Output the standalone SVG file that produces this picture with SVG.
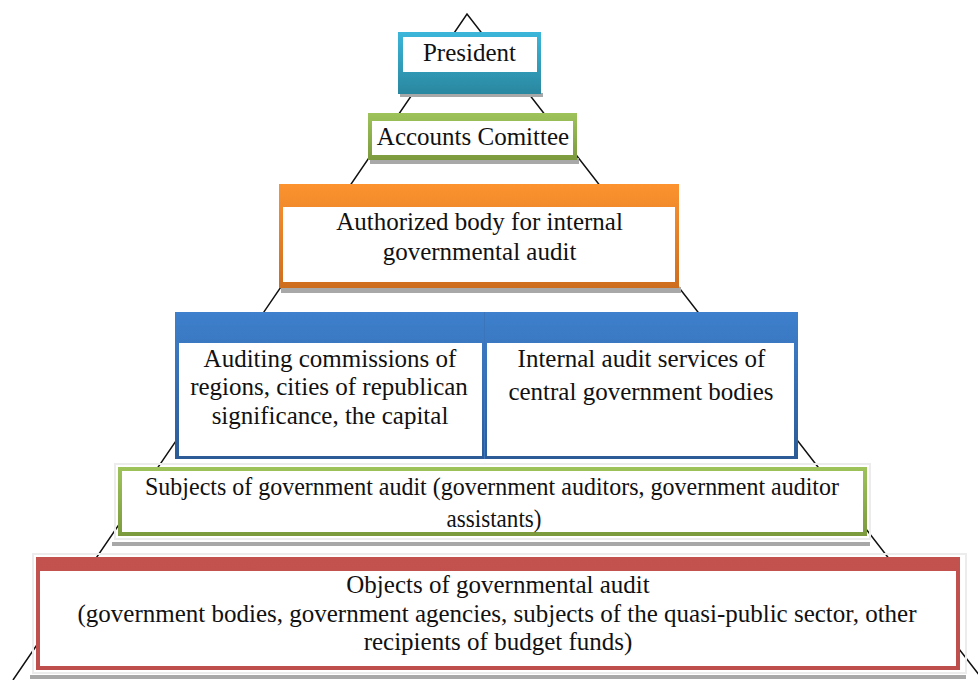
<svg xmlns="http://www.w3.org/2000/svg" width="978" height="680" viewBox="0 0 978 680">
  <defs>
    <linearGradient id="gTeal" x1="0" y1="0" x2="0" y2="1">
      <stop offset="0" stop-color="#3bb6da"/>
      <stop offset="1" stop-color="#2a879f"/>
    </linearGradient>
    <linearGradient id="gGreen" x1="0" y1="0" x2="0" y2="1">
      <stop offset="0" stop-color="#9ec35b"/>
      <stop offset="1" stop-color="#7c9a3d"/>
    </linearGradient>
    <linearGradient id="gOrange" x1="0" y1="0" x2="0" y2="1">
      <stop offset="0" stop-color="#fc932f"/>
      <stop offset="1" stop-color="#cd6d1e"/>
    </linearGradient>
    <linearGradient id="gBlue" x1="0" y1="0" x2="0" y2="1">
      <stop offset="0" stop-color="#3e80cd"/>
      <stop offset="1" stop-color="#2c5b97"/>
    </linearGradient>
    <linearGradient id="gRed" x1="0" y1="0" x2="0" y2="1">
      <stop offset="0" stop-color="#c3524f"/>
      <stop offset="1" stop-color="#bd4e4b"/>
    </linearGradient>
  </defs>
  <style>
    .label { font-family: "Liberation Serif", "Times New Roman", serif; font-size: 25px; fill: #111; text-anchor: middle; }
    .panel { fill: #ffffff; }
    .shadow { fill: #a8a8a8; }
    .glow { fill: none; stroke: #ececec; stroke-width: 2; }
    .edge { fill: none; stroke: #111; stroke-width: 1.5; }
  </style>

  <rect width="978" height="680" fill="#ffffff"/>

  <!-- pyramid outline behind the tiers -->
  <g id="pyramid">
    <polyline class="edge" points="13,680 467,14 983,680"/>
  </g>

  <g id="connectors"/>

  <!-- tier 1 -->
  <g id="president">
    <rect class="shadow" x="400" y="93" width="143" height="4"/>
    <rect x="398" y="32" width="143" height="62" fill="url(#gTeal)"/>
    <rect class="panel" x="403" y="37" width="134" height="35"/>
    <text class="label" x="469.5" y="61">President</text>
  </g>

  <!-- tier 2 -->
  <g id="accounts-committee">
    <rect class="shadow" x="370" y="158" width="209" height="6"/>
    <rect x="368" y="113" width="209" height="47" fill="url(#gGreen)"/>
    <rect class="panel" x="372" y="121" width="201" height="34"/>
    <text class="label" x="473" y="145">Accounts Comittee</text>
  </g>

  <!-- tier 3 -->
  <g id="authorized-body">
    <rect class="shadow" x="281" y="287" width="400" height="6"/>
    <rect x="279" y="184" width="400" height="104" fill="url(#gOrange)"/>
    <rect class="panel" x="283" y="207" width="392" height="75"/>
    <text class="label" x="479.5" y="230">Authorized body for internal</text>
    <text class="label" x="479.5" y="260">governmental audit</text>
  </g>

  <!-- tier 4 -->
  <g id="auditing-commissions">
    <rect x="175" y="312" width="311" height="147" fill="url(#gBlue)"/>
    <rect class="panel" x="179" y="343" width="303" height="113"/>
    <text class="label" x="330" y="367">Auditing commissions of</text>
    <text class="label" x="329" y="395">regions, cities of republican</text>
    <text class="label" x="330" y="424">significance, the capital</text>
  </g>
  <g id="internal-audit-services">
    <rect x="484" y="312" width="314" height="147" fill="url(#gBlue)"/>
    <line x1="484.5" y1="312" x2="484.5" y2="459" stroke="#3a74bb" stroke-width="1"/>
    <rect class="panel" x="487" y="343" width="307" height="113"/>
    <text class="label" x="641.5" y="367">Internal audit services of</text>
    <text class="label" x="641" y="400">central government bodies</text>
  </g>

  <!-- tier 5 -->
  <g id="audit-subjects">
    <rect class="glow" x="115" y="464" width="755" height="75"/>
    <rect class="shadow" x="112" y="542" width="758" height="4"/>
    <rect x="118" y="467" width="749" height="69" fill="url(#gGreen)"/>
    <rect class="panel" x="122" y="471" width="741" height="61"/>
    <text class="label" x="492" y="495" textLength="694" lengthAdjust="spacingAndGlyphs">Subjects of government audit (government auditors, government auditor</text>
    <text class="label" x="494" y="527" textLength="95" lengthAdjust="spacingAndGlyphs">assistants)</text>
  </g>

  <!-- tier 6 -->
  <g id="audit-objects">
    <rect class="glow" x="33" y="554" width="933" height="119"/>
    <rect class="shadow" x="30" y="675" width="936" height="4"/>
    <rect x="36" y="557" width="924" height="113" fill="url(#gRed)"/>
    <rect class="panel" x="40" y="571" width="916" height="95"/>
    <text class="label" x="498" y="593">Objects of governmental audit</text>
    <text class="label" x="497" y="622">(government bodies, government agencies, subjects of the quasi-public sector, other</text>
    <text class="label" x="498" y="650">recipients of budget funds)</text>
  </g>
</svg>
